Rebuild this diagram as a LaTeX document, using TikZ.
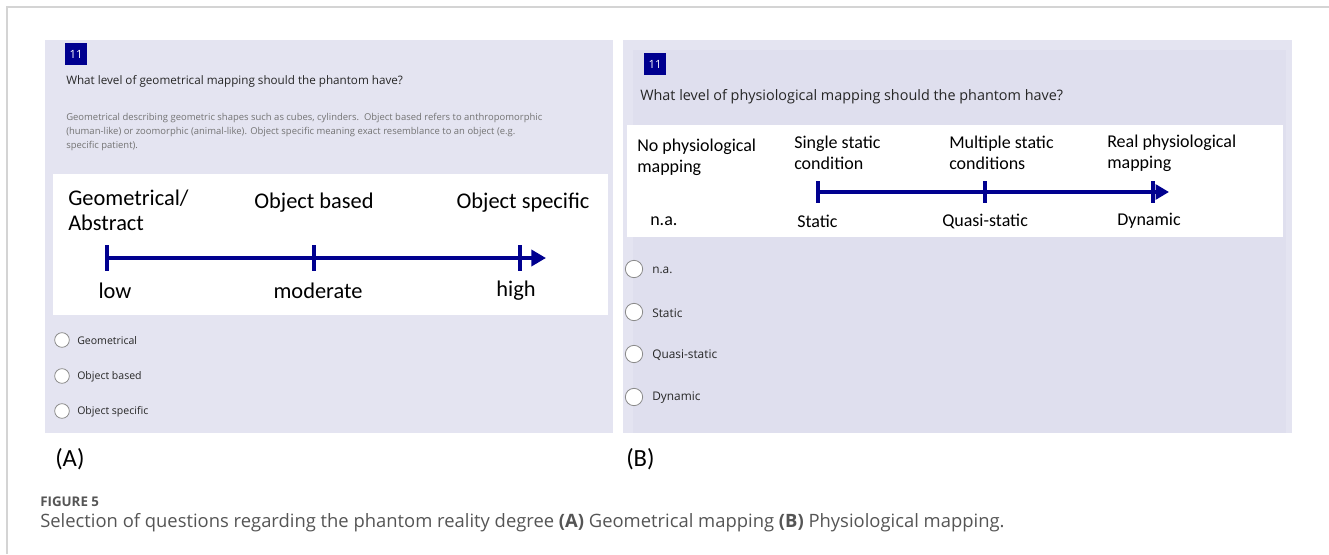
\documentclass[tikz,border=0pt]{standalone}
\usepackage{fontspec}
\setmainfont{Carlito}
\newfontfamily\formfont{Open Sans}
\usetikzlibrary{arrows.meta}
\definecolor{lav}{HTML}{E4E4F1}
\definecolor{lavdark}{HTML}{DFDFEE}
\definecolor{navy}{HTML}{00008F}
\definecolor{notegray}{HTML}{737373}
\definecolor{capgray}{HTML}{555555}
\definecolor{framegray}{HTML}{D4D4D4}
\definecolor{radiogray}{HTML}{8A8A8A}

\begin{document}
\begin{tikzpicture}[x=0.75pt,y=-0.75pt,
    panel/.style={fill=lav,draw=none},
    scalebox/.style={fill=white,draw=none},
    numbox/.style={rectangle,fill=navy,text=white,minimum width=16pt,minimum height=16pt,inner sep=0pt,font=\formfont\fontsize{8.5}{9}\selectfont},
    question/.style={anchor=west,inner sep=0pt,text=black!85},
    note/.style={anchor=north west,inner sep=0pt,align=left,text=notegray,font=\formfont\fontsize{7.1}{10.5}\selectfont},
    scaletop/.style={anchor=west,inner sep=0pt,align=left},
    level/.style={inner sep=0pt},
    tick/.style={rectangle,fill=navy,inner sep=0pt,minimum width=3pt},
    axis/.style={draw=navy,line width=3pt,-{Triangle[length=11pt,width=12pt]}},
    radio/.style={circle,draw=radiogray,fill=white,line width=0.6pt,inner sep=0pt},
    option/.style={anchor=west,inner sep=0pt,text=black!85},
    sublabel/.style={anchor=west,inner sep=0pt,font=\fontsize{18.5}{20}\selectfont}]
  \useasboundingbox (0,0) rectangle (1329,554);
  % frame of the figure
  \draw[framegray,line width=0.9pt] (7,554) -- (7,7) -- (1329,7);
  %
  % panel A
  \fill[panel] (45,40) rectangle (613,433);
  \node[numbox] (numA) at (76,54) {11};
  \node[question,font=\formfont\fontsize{8.75}{10}\selectfont] (qA) at (66,81) {What level of geometrical mapping should the phantom have?};
  \node[note] (noteA) at (66,113) {Geometrical describing geometric shapes such as cubes, cylinders.\ \ Object based refers to anthropomorphic\\(human-like) or zoomorphic (animal-like). Object specific meaning exact resemblance to an object (e.g.\\specific patient).};
  \fill[scalebox] (53,174) rectangle (608,315);
  \begin{scope}[every node/.append style={font=\fontsize{16.8}{18.75}\selectfont}]
    \node[scaletop] (geoA) at (68,210) {Geometrical/\\Abstract};
    \node[level] (objbA) at (314,203) {Object based};
    \node[level] (objsA) at (523,203) {Object specific};
    \node[level] (lowA) at (115,291) {low};
    \node[level] (modA) at (318,291) {moderate};
    \node[level] (highA) at (516,291) {high};
  \end{scope}
  \node[tick,minimum height=20pt] (tA1) at (107,258) {};
  \node[tick,minimum height=20pt] (tA2) at (314,258) {};
  \node[tick,minimum height=20pt] (tA3) at (520,258) {};
  \coordinate (tipA) at (546,258);
  \draw[axis] (tA1.center) -- (tipA);
  %
  \node[radio,minimum size=11pt] (rA1) at (62,340) {};
  \node[radio,minimum size=11pt] (rA2) at (62,376) {};
  \node[radio,minimum size=11pt] (rA3) at (62,411) {};
  \begin{scope}[every node/.append style={font=\formfont\fontsize{7.9}{9}\selectfont}]
    \node[option] (oA1) at (77,341) {Geometrical};
    \node[option] (oA2) at (77,377) {Object based};
    \node[option] (oA3) at (77,412) {Object specific};
  \end{scope}
  \node[sublabel] (labA) at (55,459) {(A)};
  %
  % panel B
  \fill[panel] (623,40) rectangle (1292,433);
  \fill[lavdark] (633,50) rectangle (1286,433);
  \node[numbox] (numB) at (655,64) {11};
  \node[question,font=\formfont\fontsize{10.8}{12}\selectfont] (qB) at (640,97) {What level of physiological mapping should the phantom have?};
  \fill[scalebox] (627,125) rectangle (1283,237);
  \begin{scope}[every node/.append style={font=\fontsize{13.5}{16}\selectfont}]
    \node[scaletop] (noneB) at (637,157) {No physiological\\mapping};
    \node[scaletop] (singB) at (794,153) {Single static\\condition};
    \node[scaletop] (multB) at (949,153) {Multiple static\\conditions};
    \node[scaletop] (realB) at (1107,153) {Real physiological\\mapping};
    \node[level,anchor=west] (naB) at (650,221) {n.a.};
    \node[level,anchor=west] (statB) at (797,221) {Static};
    \node[level,anchor=west] (quasB) at (942,221) {Quasi-static};
    \node[level,anchor=west] (dynB) at (1117,221) {Dynamic};
  \end{scope}
  \node[tick,minimum height=17pt] (tB1) at (818,192) {};
  \node[tick,minimum height=17pt] (tB2) at (985,192) {};
  \node[tick,minimum height=17pt] (tB3) at (1153,192) {};
  \coordinate (tipB) at (1169,192);
  \draw[axis,line width=2.6pt,-{Triangle[length=10pt,width=11pt]}] (tB1.center) -- (tipB);
  %
  \node[radio,minimum size=13pt] (rB1) at (634,269) {};
  \node[radio,minimum size=13pt] (rB2) at (634,312) {};
  \node[radio,minimum size=13pt] (rB3) at (634,354) {};
  \node[radio,minimum size=13pt] (rB4) at (634,397) {};
  \begin{scope}[every node/.append style={font=\formfont\fontsize{8.9}{10}\selectfont}]
    \node[option] (oB1) at (652,270) {n.a.};
    \node[option] (oB2) at (652,313) {Static};
    \node[option] (oB3) at (652,355) {Quasi-static};
    \node[option] (oB4) at (652,398) {Dynamic};
  \end{scope}
  \node[sublabel] (labB) at (626,459) {(B)};
  %
  % caption
  \node[anchor=west,inner sep=0pt,text=capgray,font=\formfont\bfseries\fontsize{10}{12}\selectfont] (figno) at (40,502) {FIGURE 5};
  \node[anchor=west,inner sep=0pt,text=capgray,font=\formfont\fontsize{13.8}{16}\selectfont] (cap) at (40,523) {Selection of questions regarding the phantom reality degree \textbf{(A)} Geometrical mapping \textbf{(B)} Physiological mapping.};
\end{tikzpicture}
\end{document}
